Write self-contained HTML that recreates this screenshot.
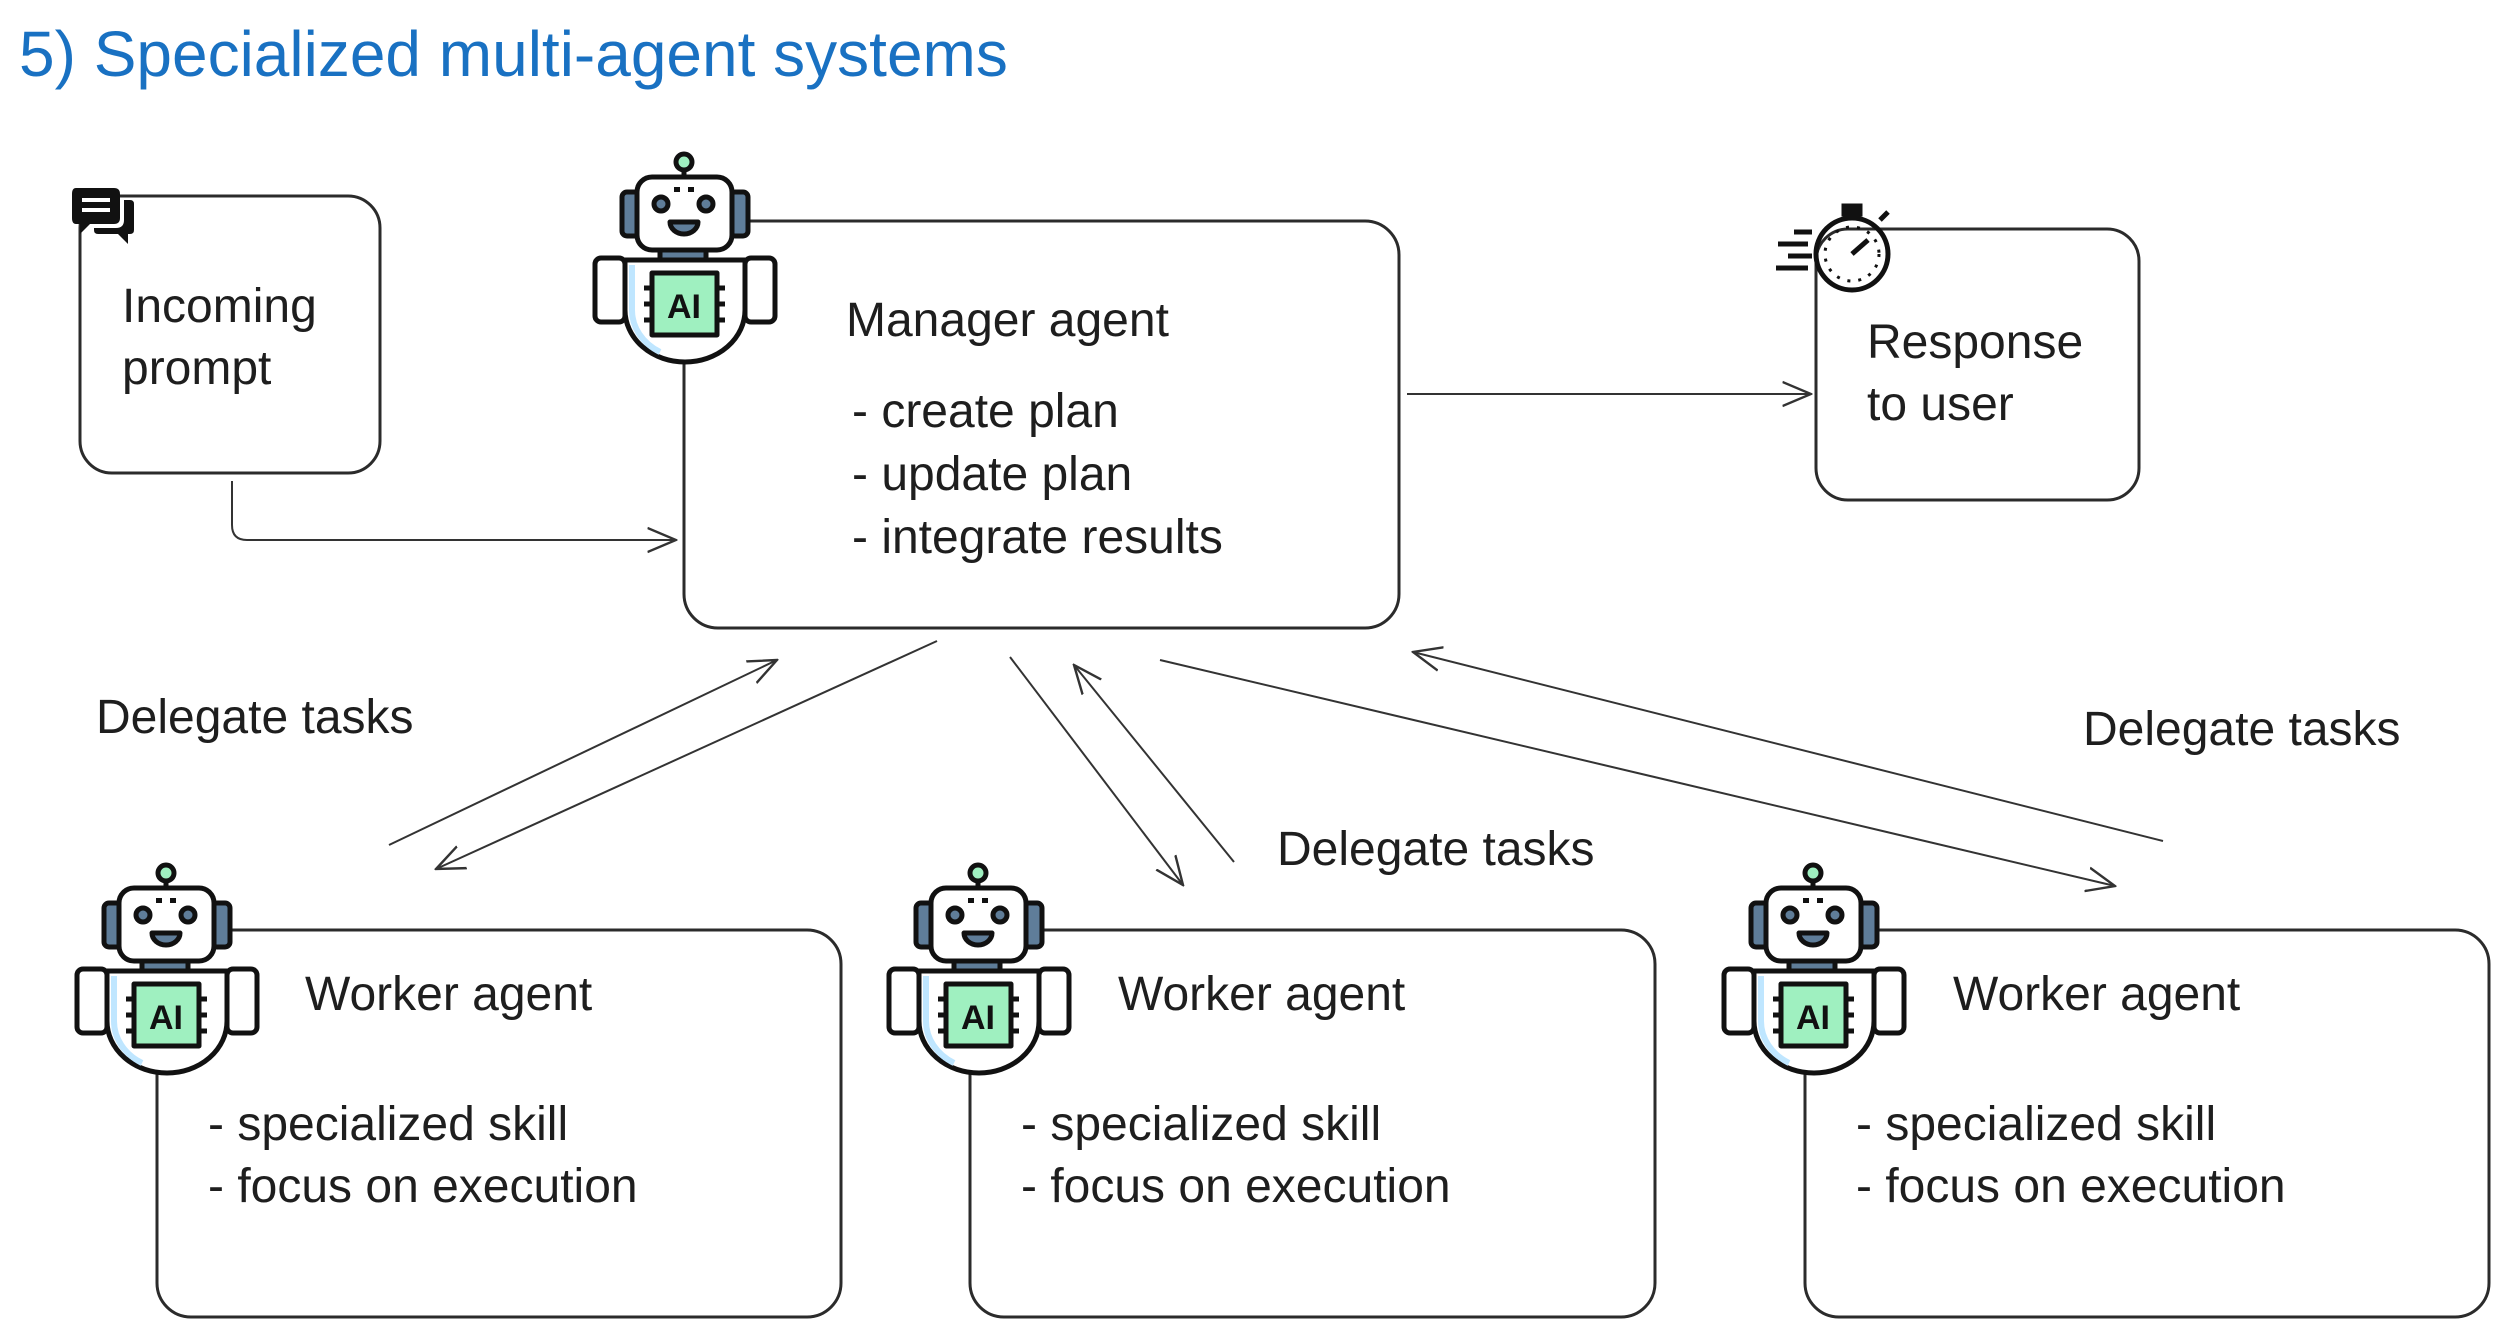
<!DOCTYPE html>
<html><head><meta charset="utf-8"><style>
html,body{margin:0;padding:0;background:#fff;}
svg{display:block;}
text{font-family:"Liberation Sans",sans-serif;fill:#1e1e1e;}
</style></head><body>
<svg width="2500" height="1324" viewBox="0 0 2500 1324" xmlns="http://www.w3.org/2000/svg">
<defs>
<g id="robot" stroke="#111" stroke-width="5" stroke-linejoin="round">
  <line x1="104" y1="30" x2="104" y2="40"/>
  <circle cx="104" cy="22" r="8" fill="#9ff0c0"/>
  <rect x="42" y="52" width="18" height="44" rx="5" fill="#5f7d99"/>
  <rect x="150" y="52" width="18" height="44" rx="5" fill="#5f7d99"/>
  <rect x="80" y="108" width="46" height="14" fill="#5f7d99"/>
  <rect x="15" y="118" width="30" height="64" rx="6" fill="#fff"/>
  <rect x="165" y="118" width="30" height="64" rx="6" fill="#fff"/>
  <path d="M45 120 H165 V170 A60 52 0 0 1 45 170 Z" fill="#fff"/>
  <path d="M52 125 V170 A55 48 0 0 0 80 212" fill="none" stroke="#bfe6ff" stroke-width="6"/>
  <rect x="57" y="37" width="95" height="73" rx="15" fill="#fff"/>
  <circle cx="81" cy="64" r="7" fill="#5f7d99"/>
  <circle cx="126" cy="64" r="7" fill="#5f7d99"/>
  <rect x="94" y="47" width="6" height="5" fill="#111" stroke="none"/>
  <rect x="108" y="47" width="6" height="5" fill="#111" stroke="none"/>
  <path d="M90 82 H118 A14 12 0 0 1 90 82 Z" fill="#5f7d99"/>
  <rect x="72" y="133" width="65" height="62" fill="#9ff0c0"/>
  <line x1="64" y1="148" x2="72" y2="148"/><line x1="64" y1="164" x2="72" y2="164"/><line x1="64" y1="180" x2="72" y2="180"/>
  <line x1="137" y1="148" x2="145" y2="148"/><line x1="137" y1="164" x2="145" y2="164"/><line x1="137" y1="180" x2="145" y2="180"/>
  <text x="104" y="178" text-anchor="middle" font-size="34" font-weight="bold" stroke="none" style="fill:#111">AI</text>
</g>
<marker id="ah" viewBox="0 0 20 20" refX="19" refY="10" markerWidth="30" markerHeight="30" markerUnits="userSpaceOnUse" orient="auto">
  <path d="M0 2 L19 10 L0 18" fill="none" stroke="#333" stroke-width="1.6"/>
</marker>
</defs>

<text x="19" y="76" font-size="64" style="fill:#1971c2">5) Specialized multi-agent systems</text>

<g fill="none" stroke="#2b2b2b" stroke-width="3">
  <rect x="80" y="196" width="300" height="277" rx="32"/>
  <rect x="684" y="221" width="715" height="407" rx="34"/>
  <rect x="1816" y="229" width="323" height="271" rx="32"/>
  <rect x="157" y="930" width="684" height="387" rx="34"/>
  <rect x="970" y="930" width="685" height="387" rx="34"/>
  <rect x="1805" y="930" width="684" height="387" rx="34"/>
</g>

<g fill="none" stroke="#333" stroke-width="2" marker-end="url(#ah)">
  <path d="M232 481 V525 Q232 540 247 540 H676"/>
  <path d="M1407 394 H1811"/>
  <path d="M389 845 L777 660"/>
  <path d="M937 641 L436 869"/>
  <path d="M1010 657 L1183 885"/>
  <path d="M1234 862 L1074 665"/>
  <path d="M1160 660 L2115 886"/>
  <path d="M2163 841 L1413 652"/>
</g>

<g transform="translate(72,184)">
  <path d="M4 4 H42 Q48 4 48 10 V34 Q48 40 42 40 H18 L8 50 V40 H4 Q0 40 0 34 V10 Q0 4 4 4Z" fill="#111"/>
  <path d="M52 16 H58 Q62 16 62 20 V46 Q62 50 58 50 H56 V60 L46 50 H26 Q22 50 22 46 V44 H44 Q52 44 52 36Z" fill="#111"/>
  <rect x="10" y="14" width="28" height="4" fill="#fff"/><rect x="10" y="24" width="28" height="4" fill="#fff"/>
</g>

<g transform="translate(1768,204)" stroke="#111" stroke-width="5" fill="none">
  <circle cx="84" cy="50" r="36"/>
  <circle cx="84" cy="50" r="27" stroke-width="3" stroke-dasharray="3 8"/>
  <line x1="84" y1="50" x2="100" y2="36"/>
  <rect x="76" y="2" width="16" height="8" fill="#111"/>
  <line x1="84" y1="10" x2="84" y2="14"/>
  <line x1="112" y1="16" x2="120" y2="8"/>
  <line x1="10" y1="40" x2="40" y2="40"/><line x1="20" y1="52" x2="44" y2="52"/><line x1="8" y1="64" x2="40" y2="64"/>
  <line x1="26" y1="28" x2="44" y2="28"/>
</g>

<use href="#robot" transform="translate(580,140)"/>
<use href="#robot" transform="translate(62,851)"/>
<use href="#robot" transform="translate(874,851)"/>
<use href="#robot" transform="translate(1709,851)"/>

<g font-size="48">
  <text x="122" y="322">Incoming</text>
  <text x="122" y="384">prompt</text>
  <text x="846" y="336">Manager agent</text>
  <text x="852" y="427">- create plan</text>
  <text x="852" y="490">- update plan</text>
  <text x="852" y="553">- integrate results</text>
  <text x="1867" y="358">Response</text>
  <text x="1867" y="420">to user</text>
  <text x="305" y="1010">Worker agent</text>
  <text x="208" y="1140">- specialized skill</text>
  <text x="208" y="1202">- focus on execution</text>
  <text x="1118" y="1010">Worker agent</text>
  <text x="1021" y="1140">- specialized skill</text>
  <text x="1021" y="1202">- focus on execution</text>
  <text x="1953" y="1010">Worker agent</text>
  <text x="1856" y="1140">- specialized skill</text>
  <text x="1856" y="1202">- focus on execution</text>
  <text x="96" y="733">Delegate tasks</text>
  <text x="1277" y="865">Delegate tasks</text>
  <text x="2083" y="745">Delegate tasks</text>
</g>
</svg>
</body></html>
